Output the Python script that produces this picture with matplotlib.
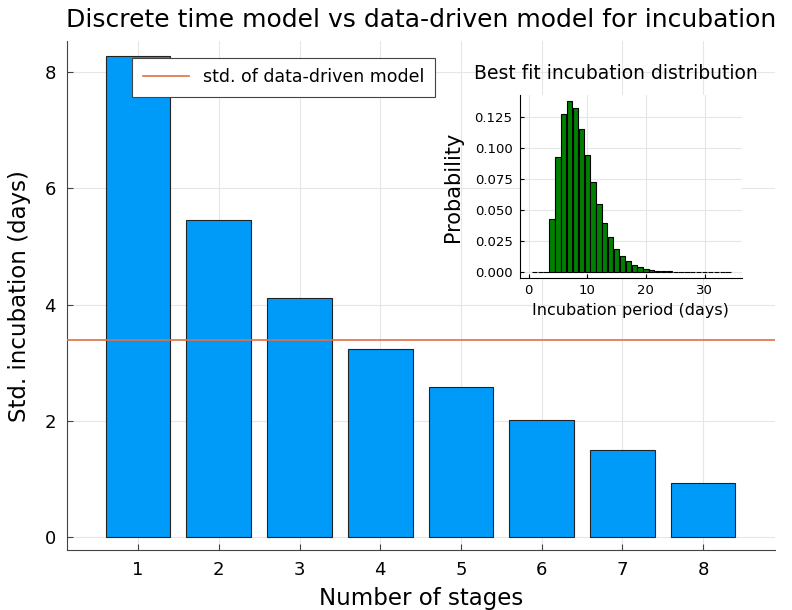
import matplotlib.pyplot as plt

# main chart data
stages = [1, 2, 3, 4, 5, 6, 7, 8]
std_incubation = [8.28, 5.46, 4.12, 3.24, 2.58, 2.02, 1.50, 0.93]
std_data_driven = 3.39

# inset: best fit incubation distribution
days = list(range(1, 35))
probability = [0.0, 0.0, 0.0, 0.0426, 0.093, 0.127, 0.138, 0.132, 0.115, 0.094,
               0.073, 0.055, 0.040, 0.028, 0.019, 0.0134, 0.0091, 0.0059, 0.0040, 0.0027,
               0.0019, 0.0013, 0.0009, 0.0006, 0.0004, 0.0003, 0.0002, 0.00015, 0.0001, 0.00007,
               0.00005, 0.00003, 0.00002, 0.00001]

fig = plt.figure(figsize=(7.92, 6.1), dpi=100)
ax = fig.add_axes([0.0846, 0.0984, 0.894, 0.834])

ax.bar(stages, std_incubation, width=0.8, color='#009AF9', edgecolor='#222222', linewidth=0.8, zorder=2)
ax.axhline(std_data_driven, color='#E26F46', linewidth=1.2, label='std. of data-driven model', zorder=3)

ax.set_xlim(0.12, 8.89)
ax.set_ylim(-0.22, 8.53)
ax.set_xticks(stages)
ax.set_yticks([0, 2, 4, 6, 8])
ax.grid(True, color='#e6e6e6', linewidth=0.8, zorder=0)
for s in ['top', 'right']:
    ax.spines[s].set_visible(False)
for s in ['left', 'bottom']:
    ax.spines[s].set_color('#444444')
ax.tick_params(direction='in', length=4, labelsize=13, color='#444444', pad=8)
ax.set_xlabel('Number of stages', fontsize=16.5, labelpad=6)
ax.set_ylabel('Std. incubation (days)', fontsize=16.5, labelpad=10)
ax.set_title('Discrete time model vs data-driven model for incubation', fontsize=18, pad=10)
leg = ax.legend(loc='upper left', bbox_to_anchor=(0.092, 0.967), borderaxespad=0, fontsize=12.5,
                fancybox=False, framealpha=1, edgecolor='#444444', handlelength=2.7, borderpad=0.6)
leg.get_frame().set_linewidth(0.8)

# inset
ins = fig.add_axes([0.656, 0.545, 0.281, 0.299])
ins.bar(days, probability, width=0.9, color='#008000', edgecolor='black', linewidth=0.8, zorder=2)
ins.set_xlim(-1.53, 36.4)
ins.set_ylim(-0.0043, 0.1425)
ins.set_xticks([0, 10, 20, 30])
ins.set_yticks([0, 0.025, 0.05, 0.075, 0.1, 0.125])
ins.set_yticklabels(['0.000', '0.025', '0.050', '0.075', '0.100', '0.125'])
ins.grid(True, color='#e6e6e6', linewidth=0.8, zorder=0)
for s in ['top', 'right']:
    ins.spines[s].set_visible(False)
ins.tick_params(direction='in', length=3, labelsize=9.5, pad=5)
ins.set_xlabel('Incubation period (days)', fontsize=11.5)
ins.set_ylabel('Probability', fontsize=15, labelpad=8)
fig.text(0.778, 0.88, 'Best fit incubation distribution', fontsize=13.5, ha='center', va='center')

fig.savefig('out.png', dpi=100)
